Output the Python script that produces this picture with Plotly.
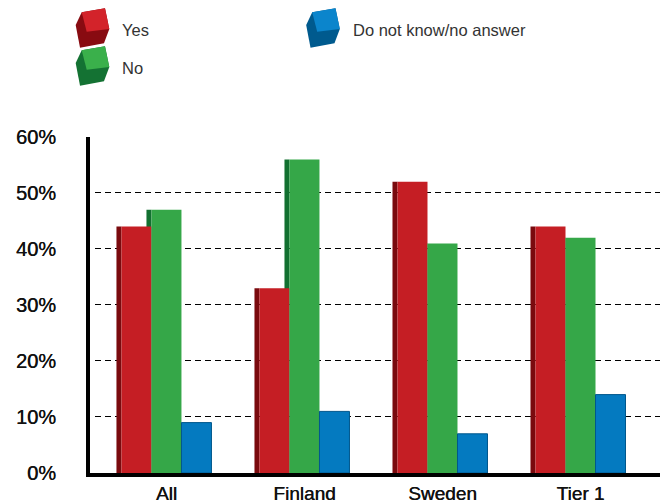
import plotly.graph_objects as go

# Survey answers, share of respondents (%)
categories = ["All", "Finland", "Sweden", "Tier 1"]
yes = [44, 33, 52, 44]
no = [47, 56, 41, 42]
dont_know = [9, 11, 7, 14]

series_names = ["Yes", "No", "Do not know/no answer"]
face_colors = ["#C51E24", "#35A748", "#047AC0"]
side_colors = ["#7A0A0E", "#127030", "#00578C"]

y_ticks = [0, 10, 20, 30, 40, 50, 60]
grid_values = [10, 20, 30, 40, 50]

# Layout in pixels
W, H = 665, 504
L, R, T, B = 90, 5, 137, 31
plot_w = W - L - R
plot_h = H - T - B
y_max = 60
x_range = [-0.554, 3.576]
unit = plot_w / (x_range[1] - x_range[0])   # pixels per category
face_px, side_px = 30, 5
face_w = face_px / unit
side_w = side_px / unit

fig = go.Figure()
values = [yes, no, dont_know]

# Each bar: a dark side strip on its left, then the lit front face.
faces = []
for i, (name, vals) in enumerate(zip(series_names, values)):
    face_off = (-1.5 + i) * face_w
    fig.add_trace(go.Bar(
        x=categories, y=vals, width=side_w, offset=face_off - side_w,
        marker=dict(color=side_colors[i], line=dict(width=0)),
        showlegend=False, hoverinfo="skip"))
    faces.append(go.Bar(
        x=categories, y=vals, width=face_w, offset=face_off, name=name,
        marker=dict(color=face_colors[i],
                    line=dict(width=1 if i == 2 else 0, color=side_colors[i])),
        showlegend=False))
for f in faces:
    fig.add_trace(f)

# Dashed horizontal guides, nudged half a pixel so they render crisply
half_px = 0.5 * y_max / plot_h
shapes = []
for v in grid_values:
    shapes.append(dict(type="line", xref="paper", yref="y",
                       x0=5 / plot_w, x1=1, y0=v + half_px, y1=v + half_px,
                       layer="below",
                       line=dict(color="black", width=1, dash="6px,4px")))


def px_to_paper(X, Y):
    return (X - L) / plot_w, (H - B - Y) / plot_h


# Cube legend icons (hexagon outline with a lit face)
outline = [(-16.8, -3), (-10.8, -15.7), (12.5, -19.7), (16.8, 1),
           (11.5, 15.3), (-12.5, 19.7)]
lit = [(-10.8, -15.7), (12.5, -19.7), (16.8, 1), (-5.8, 3.7)]


def path_of(pts):
    return "M " + " L ".join(f"{x},{-y}" for x, y in pts) + " Z"


legend_items = [(92.5, 28, 0), (92.5, 66, 1), (323, 28, 2)]
annotations = []
cube_light = ["#D3232A", "#3AB04B", "#0B85CC"]
cube_dark = ["#880B11", "#147233", "#005A8E"]
for cx, cy, k in legend_items:
    ax, ay = px_to_paper(cx, cy)
    for pts, col in ((outline, cube_dark[k]), (lit, cube_light[k])):
        shapes.append(dict(type="path", xref="paper", yref="paper",
                           xsizemode="pixel", ysizemode="pixel",
                           xanchor=ax, yanchor=ay, path=path_of(pts),
                           fillcolor=col, line=dict(width=0)))
    tx, ty = px_to_paper(cx + 27.5, cy + 2)
    annotations.append(dict(text=series_names[k], xref="paper", yref="paper",
                            x=tx, y=ty, xanchor="left", yanchor="middle",
                            showarrow=False,
                            font=dict(family="Liberation Sans", size=16.5,
                                      color="#333333")))

# Slightly heavier axis lettering
tick_font = dict(family="Liberation Sans", color="#111111",
                 shadow="0.4px 0 0 #111111")

fig.update_layout(
    width=W, height=H,
    margin=dict(l=L, r=R, t=T, b=B, pad=0, autoexpand=False),
    paper_bgcolor="white", plot_bgcolor="white",
    barmode="overlay",
    shapes=shapes, annotations=annotations,
    font=dict(family="Liberation Sans", color="#1a1a1a"),
    xaxis=dict(range=x_range, showgrid=False, zeroline=False, automargin=False,
               showline=True, linecolor="black", linewidth=4,
               ticks="", tickfont=dict(size=19, **tick_font),
               ticklabelstandoff=0),
    yaxis=dict(range=[0, y_max], tickvals=y_ticks, automargin=False,
               ticktext=[f"{v}%" for v in y_ticks],
               showgrid=False, zeroline=False,
               showline=True, linecolor="black", linewidth=4,
               ticks="", tickfont=dict(size=20, **tick_font),
               ticklabelstandoff=26),
)

fig.write_html("out.html")
